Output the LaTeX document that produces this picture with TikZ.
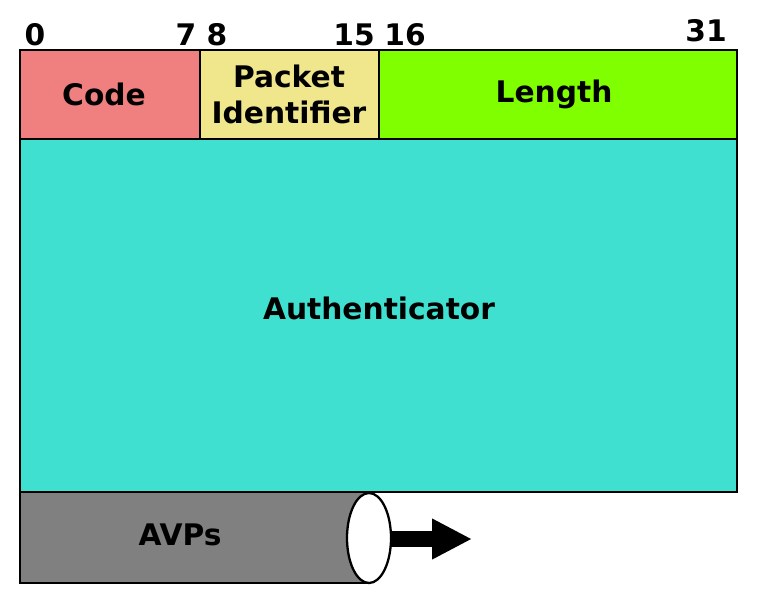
\documentclass[tikz,border=0pt]{standalone}
\usepackage{fontspec}
\setmainfont{DejaVu Sans}
\usepackage{tikz}
\usetikzlibrary{positioning,
                arrows.meta}                % arrow tips

\definecolor{codered}{HTML}{F08080}
\definecolor{pidyellow}{HTML}{F0E68C}
\definecolor{lengreen}{HTML}{7FFF00}
\definecolor{authcyan}{HTML}{40E0D0}
\definecolor{avpgray}{HTML}{808080}

\tikzset{field/.style={draw=black, line width=1.3pt},
         lbl/.style={font=\fontsize{16.9}{20.4}\selectfont\bfseries, inner sep=0pt, anchor=base, align=center}}

\begin{document}
\begin{tikzpicture}[x=0.02cm, y=-0.02cm]
      \useasboundingbox (0,0) rectangle (759,606);

      % header row
      \filldraw[field, fill=codered] (20,50) rectangle (200,139);
      \filldraw[field, fill=pidyellow] (200,50) rectangle (379,139);
      \filldraw[field, fill=lengreen] (379,50) rectangle (737,139);
      \filldraw[field, fill=authcyan] (20,139) rectangle (737,492);

      % bit numbers
      \node[lbl] (bit0) at (35,45) {0};
      \node[lbl] (bit7) at (186,45) {7};
      \node[lbl] (bit8) at (217,45) {8};
      \node[lbl] (bit15) at (354,45) {15};
      \node[lbl] (bit16) at (405,45) {16};
      \node[lbl] (bit31) at (706,41) {31};

      \node[lbl] (code) at (104,105) {Code};
      \node[lbl] (pid) at (289,123) {Packet\\Identifier};
      \node[lbl] (length) at (554,102) {Length};
      \node[lbl] (auth) at (379,319) {Authenticator};

      % AVPs as a tube
      \fill[avpgray] (20,492) rectangle (369,583);
      \draw[field] (369,492) -- (20,492) -- (20,583) -- (369,583);
      \filldraw[field, fill=white] (369,538) ellipse [x radius=22, y radius=45];
      \node[lbl] (avps) at (180,545) {AVPs};

      \coordinate (avpend) at (391,539);
      \coordinate (avptip) at (472,539);
      \draw[line width=0.31cm, -{Triangle[length=0.8cm, width=0.76cm]}] (avpend) -- (avptip);
\end{tikzpicture}
\end{document}
